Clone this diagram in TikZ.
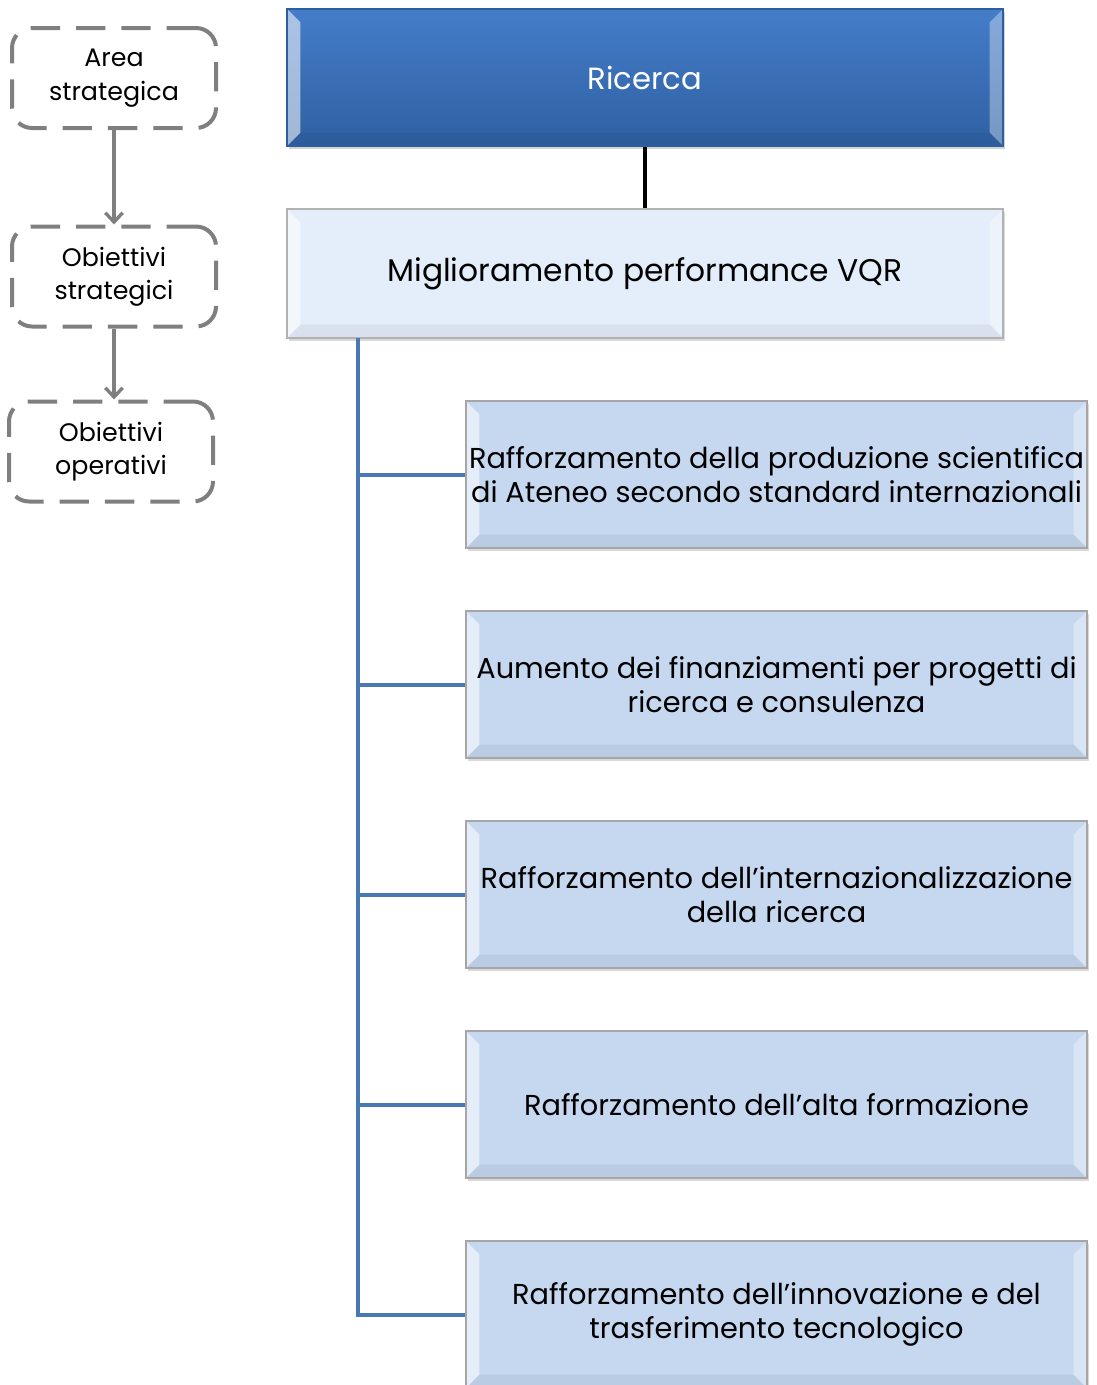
\documentclass[tikz,border=0pt]{standalone}
\usepackage{fontspec}
\setmainfont{Poppins}
\usetikzlibrary{positioning,arrows.meta,shadows}

\definecolor{ricblue}{HTML}{3B76C6}
\definecolor{ricdark}{HTML}{2D5E9E}
\definecolor{migfill}{HTML}{E4EEFA}
\definecolor{objfill}{HTML}{C5D8F0}
\definecolor{trunkblue}{HTML}{4A78B5}
\definecolor{legendgray}{HTML}{7F7F7F}

\tikzset{
  bevel/.style={path picture={
      \fill[white,opacity=0.55] (path picture bounding box.north west) -- ++(10pt,-10pt) coordinate (bw)
        -- ([xshift=10pt,yshift=10pt]path picture bounding box.south west) -- (path picture bounding box.south west) -- cycle;
      \fill[white,opacity=0.35] (path picture bounding box.north east) -- ++(-10pt,-10pt)
        -- ([xshift=-10pt,yshift=10pt]path picture bounding box.south east) -- (path picture bounding box.south east) -- cycle;
      \fill[black,opacity=0.05] (path picture bounding box.south west) -- ++(10pt,10pt)
        -- ([xshift=-10pt,yshift=10pt]path picture bounding box.south east) -- (path picture bounding box.south east) -- cycle;}},
  topbox/.style={bevel,draw=ricdark,line width=1pt,top color=ricblue!95!white,bottom color=ricdark!90!ricblue,
    minimum width=537pt,minimum height=102.75pt,text=white,font=\fontsize{23}{27}\selectfont,
    drop shadow={shadow xshift=1.5pt,shadow yshift=-2pt,opacity=0.35}},
  midbox/.style={bevel,draw=black!30,line width=1pt,fill=migfill,
    minimum width=537pt,minimum height=96.75pt,font=\fontsize{23.5}{27}\selectfont,
    drop shadow={shadow xshift=1.5pt,shadow yshift=-2pt,opacity=0.3}},
  objbox/.style={bevel,draw=black!35,line width=1pt,fill=objfill,
    minimum width=465.75pt,minimum height=110.25pt,align=center,inner sep=0pt,
    font=\fontsize{21.6}{25}\selectfont,
    drop shadow={shadow xshift=1.5pt,shadow yshift=-2pt,opacity=0.3}},
  legendbox/.style={draw=legendgray,line width=3pt,dash pattern=on 22pt off 12pt,rounded corners=15pt,
    minimum width=153pt,minimum height=75pt,align=center,font=\fontsize{19}{25}\selectfont},
  legendarrow/.style={draw=legendgray,line width=2.5pt,-{Straight Barb[length=7pt,width=13pt,line width=2.5pt]}}
}

\begin{document}
\begin{tikzpicture}[x=0.75pt,y=-0.75pt,node distance=46.25pt]
  \clip (0,0) rectangle (1096,1385);

  % legend
  \node[legendbox] (area) at (114,78)    {Area\\strategica};
  \node[legendbox] (ostr) at (114,276.5) {Obiettivi\\strategici};
  \node[legendbox] (oope) at (111,451.5) {Obiettivi\\operativi};
  \draw[legendarrow] (area.south) -- (ostr.north);
  \draw[legendarrow] (ostr.south) -- (ostr.south |- oope.north);

  % hierarchy
  \node[topbox] (ric) at (645,77.5)  {Ricerca};
  \node[midbox] (vqr) at (645,273.5) {Miglioramento performance VQR};
  \draw[line width=3pt,black] (ric.south) -- (vqr.north);

  \node[objbox] (o1) at (776.5,474.5) {Rafforzamento della produzione scientifica\\di Ateneo secondo standard internazionali};
  \node[objbox,below=of o1] (o2) {Aumento dei finanziamenti per progetti di\\ricerca e consulenza};
  \node[objbox,below=of o2] (o3) {Rafforzamento dell’internazionalizzazione\\della ricerca};
  \node[objbox,below=of o3] (o4) {Rafforzamento dell’alta formazione};
  \node[objbox,below=of o4] (o5) {Rafforzamento dell’innovazione e del\\trasferimento tecnologico};

  \coordinate (trunk) at (358,338);
  \draw[trunkblue,line width=3pt] (trunk) |- (o5.west);
  \foreach \o in {o1,o2,o3,o4}
    \draw[trunkblue,line width=3pt] (trunk |- \o.west) -- (\o.west);

\end{tikzpicture}
\end{document}
